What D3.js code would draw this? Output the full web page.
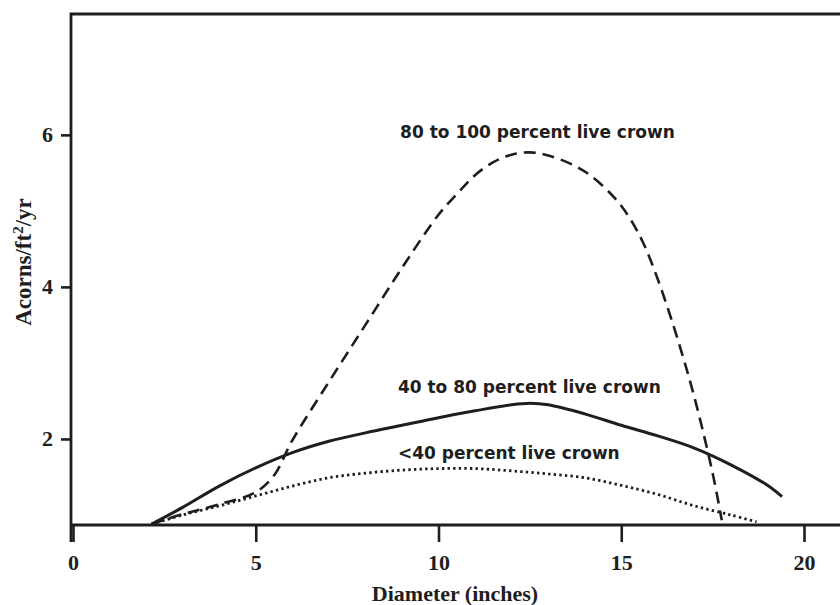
<!DOCTYPE html>
<html>
<head>
<meta charset="utf-8">
<script src="https://cdn.jsdelivr.net/npm/d3@7"></script>
<style>
  html, body { margin: 0; padding: 0; background: #fff; }
  svg { display: block; }
</style>
</head>
<body>
<svg id="chart"></svg>
<script>
// tick labels
const xTicks = [0, 5, 10, 15, 20];
const yTicks = [2, 4, 6];

// 80 to 100 percent live crown (dashed)
const highX = [2.15, 3, 4, 5, 5.5, 6, 7, 8, 9, 10, 10.5, 11, 11.5, 12, 12.5, 13, 13.7, 14.2, 14.8, 15.2, 15.6, 16, 16.5, 17, 17.5, 17.75];
const highY = [0.88, 1.01, 1.14, 1.3, 1.52, 1.98, 2.75, 3.5, 4.25, 4.95, 5.22, 5.47, 5.64, 5.74, 5.77, 5.73, 5.6, 5.45, 5.18, 4.93, 4.58, 4.1, 3.38, 2.55, 1.55, 0.93];

// 40 to 80 percent live crown (solid)
const midX = [2.15, 3, 4, 5, 6, 7, 8, 9, 10, 11, 12, 12.5, 13, 14, 15, 16, 17, 18, 19, 19.4];
const midY = [0.88, 1.1, 1.38, 1.62, 1.82, 1.97, 2.08, 2.18, 2.28, 2.37, 2.45, 2.47, 2.45, 2.33, 2.18, 2.04, 1.88, 1.66, 1.39, 1.24];

// <40 percent live crown (dotted)
const lowX = [2.15, 3, 4, 5, 6, 7, 8, 9, 10, 11, 12, 13, 14, 15, 16, 17, 18, 18.7];
const lowY = [0.88, 1.0, 1.12, 1.25, 1.38, 1.49, 1.55, 1.59, 1.61, 1.61, 1.58, 1.54, 1.49, 1.39, 1.27, 1.12, 1.0, 0.91];

const labelText = ["80 to 100 percent live crown", "40 to 80 percent live crown", "<40 percent live crown"];
const labelX = [8.95, 8.89, 8.89];
const labelY = [5.96, 2.6, 1.74];

class AcornChart {
    constructor(_config) {
        this.config = {
            parentElement: _config.parentElement,
            containerWidth: _config.containerWidth || 840,
            containerHeight: _config.containerHeight || 605,
        }
        this.initVis();
    }

    initVis() {
        let vis = this;
        vis.svg = d3.select(vis.config.parentElement)
            .attr("width", vis.config.containerWidth)
            .attr("height", vis.config.containerHeight);

        vis.left = 71;
        vis.top = 14;
        vis.bottom = 525;

        vis.xScale = d3.scaleLinear().domain([0, 20]).range([73, 804]);
        vis.yScale = d3.scaleLinear().domain([0.868, 7.59]).range([vis.bottom, vis.top]);

        vis.ink = "#1e1e1e";
        vis.serif = "'Liberation Serif', 'Times New Roman', serif";
        vis.sans = "'DejaVu Sans', Verdana, sans-serif";
    }

    render() {
        let vis = this;

        // x axis ticks
        let xAxis = d3.axisBottom(vis.xScale)
            .tickValues(xTicks)
            .tickFormat(d3.format("d"))
            .tickSize(17)
            .tickPadding(12)
            .tickSizeOuter(0);
        let gx = vis.svg.append("g")
            .attr("transform", `translate(0,${vis.bottom})`)
            .call(xAxis);
        gx.select(".domain").remove();
        gx.selectAll("line").attr("stroke", vis.ink).attr("stroke-width", 2.6);
        gx.selectAll("text")
            .attr("fill", vis.ink)
            .attr("font-family", vis.serif)
            .attr("font-weight", "bold")
            .attr("font-size", 22);

        // y axis ticks
        let yAxis = d3.axisLeft(vis.yScale)
            .tickValues(yTicks)
            .tickFormat(d3.format("d"))
            .tickSize(10)
            .tickPadding(8)
            .tickSizeOuter(0);
        let gy = vis.svg.append("g")
            .attr("transform", `translate(${vis.left},0)`)
            .call(yAxis);
        gy.select(".domain").remove();
        gy.selectAll("line").attr("stroke", vis.ink).attr("stroke-width", 2.6);
        gy.selectAll("text")
            .attr("fill", vis.ink)
            .attr("font-family", vis.serif)
            .attr("font-weight", "bold")
            .attr("font-size", 22);

        // frame: top, left (extends below baseline), bottom
        vis.svg.append("path")
            .attr("d", `M${vis.config.containerWidth},${vis.top}H${vis.left}V${vis.bottom + 17}`)
            .attr("fill", "none")
            .attr("stroke", vis.ink)
            .attr("stroke-width", 2.8);
        vis.svg.append("line")
            .attr("x1", vis.left).attr("x2", vis.config.containerWidth)
            .attr("y1", vis.bottom).attr("y2", vis.bottom)
            .attr("stroke", vis.ink)
            .attr("stroke-width", 2.8);

        let line = d3.line()
            .x(d => vis.xScale(d[0]))
            .y(d => vis.yScale(d[1]))
            .curve(d3.curveCatmullRom.alpha(0.5));

        let series = [
            { xs: lowX, ys: lowY, width: 2.8, dash: "2.4,3.2" },
            { xs: highX, ys: highY, width: 2.6, dash: "12,7" },
            { xs: midX, ys: midY, width: 3, dash: null },
        ];
        series.forEach(s => {
            vis.svg.append("path")
                .datum(s.xs.map((x, i) => [x, s.ys[i]]))
                .attr("fill", "none")
                .attr("stroke", vis.ink)
                .attr("stroke-width", s.width)
                .attr("stroke-dasharray", s.dash)
                .attr("d", line);
        });

        // curve labels
        vis.svg.selectAll(".curve-label")
            .data(labelText)
            .join("text")
            .attr("class", "curve-label")
            .attr("x", (d, i) => vis.xScale(labelX[i]))
            .attr("y", (d, i) => vis.yScale(labelY[i]))
            .attr("fill", vis.ink)
            .attr("font-family", vis.sans)
            .attr("font-weight", "bold")
            .attr("font-size", 17)
            .text(d => d);

        // axis titles
        vis.svg.append("text")
            .attr("x", 455)
            .attr("y", 601)
            .attr("text-anchor", "middle")
            .attr("fill", vis.ink)
            .attr("font-family", vis.serif)
            .attr("font-weight", "bold")
            .attr("font-size", 22)
            .text("Diameter (inches)");

        let yt = vis.svg.append("text")
            .attr("transform", `translate(31,262) rotate(-90)`)
            .attr("text-anchor", "middle")
            .attr("fill", vis.ink)
            .attr("font-family", vis.serif)
            .attr("font-weight", "bold")
            .attr("font-size", 23);
        yt.append("tspan").text("Acorns/ft");
        yt.append("tspan").attr("baseline-shift", "super").attr("font-size", 15).text("2");
        yt.append("tspan").text("/yr");
    }
}

let chart = new AcornChart({ parentElement: "#chart" });
chart.render();
</script>
</body>
</html>
